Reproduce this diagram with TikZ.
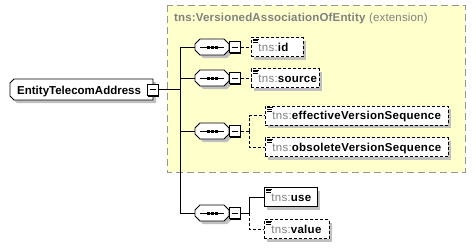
\documentclass[tikz,border=0pt]{standalone}
\usepackage{fontspec}
\setmainfont{Liberation Sans}
\usetikzlibrary{calc}

\definecolor{extfill}{RGB}{255,255,204}
\definecolor{extline}{RGB}{150,150,150}
\definecolor{nsgray}{RGB}{128,128,128}
\definecolor{shadowgray}{RGB}{192,192,192}

\tikzset{
  lbl/.style={font=\fontsize{11.5}{13}\selectfont},
  wide/.style={font=\fontsize{11.5}{13}\selectfont\addfontfeature{LetterSpace=2.5}},
  titletext/.style={font=\fontsize{11.5}{13}\selectfont\addfontfeature{LetterSpace=1.5}},
  elembox/.style={draw=black, fill=white, line width=0.9pt, inner xsep=7pt,
    inner ysep=0pt, minimum height=19, text height=9, text depth=1,
    align=left, anchor=west, wide},
  optional/.style={dash pattern=on 3pt off 2pt},
  link/.style={draw=black, line width=0.9pt},
  minusbox/.style={draw=black, fill=white, line width=1pt, minimum size=11,
    inner sep=0pt},
  seqnode/.style={minimum width=34, minimum height=16, inner sep=0pt},
}

% prefixed element name
\newcommand\ns[1]{\textcolor{nsgray}{tns:}\textbf{#1}}

% element box: name, x (left), y (centre), width, label, extra style
\newcommand\elem[6]{%
  \pgfmathsetmacro\tw{#4-14}%
  \fill[shadowgray] (#2+3,#3-9.5+3) rectangle (#2+#4+3,#3+9.5+3);
  \node[elembox,#6,text width=\tw pt] (#1) at (#2,#3) {\ns{#5}};
  \draw[line width=0.6pt]
    ([shift={(2,1.8)}]#1.north west) -- +(6,0)
    ([shift={(2,3.6)}]#1.north west) -- +(5,0)
    ([shift={(2,5.4)}]#1.north west) -- +(5,0);
}

% octagon outline in local coordinates
\newcommand\octpath{(5,-8) -- (29,-8) -- (34,-3) -- (34,3) -- (29,8) -- (5,8) -- (0,3) -- (0,-3) -- cycle}

% sequence compositor with its collapse box: name, y (centre)
\newcommand\seqgroup[2]{%
  \begin{scope}[shift={(195,#2)}]
    \fill[shadowgray] [shift={(3,3)}] \octpath;
    \draw[line width=0.9pt, fill=white] \octpath;
    \draw[line width=0.8pt] (5,0) -- (29,0);
    \foreach \dx in {13,17,21} \fill (\dx-1.5,-1.5) rectangle (\dx+1.5,1.5);
  \end{scope}
  \node[seqnode] (#1) at (212,#2) {};
  \fill (230,#2-4.5) rectangle (241,#2+6.5);
  \node[minusbox] (#1m) at (234.5,#2) {};
  \draw[line width=0.9pt] (#1m.center) +(-3,0) -- +(3,0);
}

\begin{document}
\begin{tikzpicture}[x=1pt,y=-1pt]
  \useasboundingbox (0,0) rectangle (476,249);

  % extension area
  \draw[extline, line width=1pt, dash pattern=on 7pt off 4pt, fill=extfill]
    (167,5) rectangle (465,172);
  \node[titletext, anchor=base west, text=nsgray, inner sep=0pt] (ext) at (174,21)
    {\textbf{tns:VersionedAssociationOfEntity} (extension)};

  % root element
  \fill[shadowgray] (17,82) -- (156,82) -- (156,103) -- (17,103) -- (13,99) -- (13,86) -- cycle;
  \draw[line width=0.9pt, fill=white] (14,79) -- (153,79) -- (153,100) -- (14,100) -- (10,96) -- (10,83) -- cycle;
  \node[lbl, anchor=base west, inner sep=0pt] (root) at (17,94) {\textbf{EntityTelecomAddress}};
  \fill (148,85.5) rectangle (159,96.5);
  \node[minusbox] (rootm) at (152.5,89.5) {};
  \draw[line width=0.9pt] (rootm.center) +(-3,0) -- +(3,0);

  % trunk junctions
  \coordinate (j0) at (180,89.5);
  \coordinate (j1) at (180,47);
  \coordinate (j2) at (180,78);
  \coordinate (j3) at (180,131);
  \coordinate (j4) at (180,213);

  \draw[link] (rootm.east) -- (j0);
  \draw[link] (j1) -- (j4);

  % compositors
  \seqgroup{s1}{47}
  \seqgroup{s2}{78}
  \seqgroup{s3}{131}
  \seqgroup{s4}{213}

  \foreach \i in {1,...,4} \draw[link] (j\i) -- (s\i.west);

  % child elements
  \elem{id}{251}{47}{52}{id}{optional}
  \elem{source}{251}{78}{68}{source}{optional}
  \elem{eff}{265}{115.5}{183}{effectiveVersionSequence}{optional}
  \elem{obs}{265}{147}{183}{obsoleteVersionSequence}{optional}
  \elem{use}{264}{197}{53}{use}{}
  \elem{val}{264}{229}{65}{value}{optional}

  % branch points
  \coordinate (b3) at (249,131);
  \coordinate (b4) at (249,213);

  \draw[link, optional] (s1m.east) -- (id.west);
  \draw[link, optional] (s2m.east) -- (source.west);
  \draw[link, optional] (s3m.east) -- (b3);
  \draw[link, optional] (b3) |- (eff.west);
  \draw[link, optional] (b3) |- (obs.west);
  \draw[link] (s4m.east) -- (b4) |- (use.west);
  \draw[link, optional] (b4) |- (val.west);
\end{tikzpicture}
\end{document}
